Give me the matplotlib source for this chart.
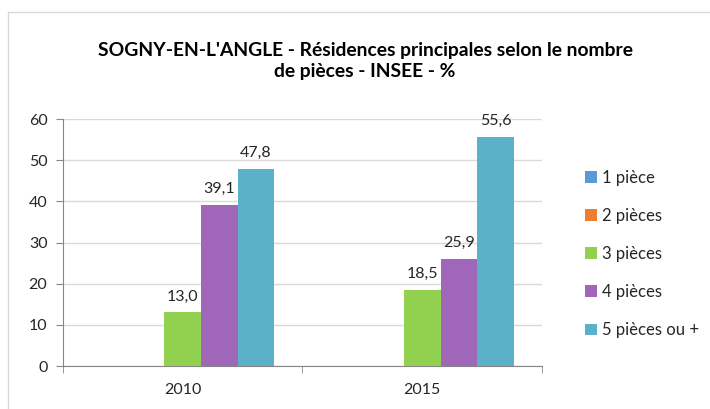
import matplotlib
matplotlib.use("Agg")
import matplotlib.pyplot as plt
import numpy as np
from matplotlib.patches import Patch, Rectangle

years = ["2010", "2015"]
series = ["1 pièce", "2 pièces", "3 pièces", "4 pièces", "5 pièces ou +"]
v_1p = [np.nan, np.nan]
v_2p = [np.nan, np.nan]
v_3p = [13.0, 18.5]
v_4p = [39.1, 25.9]
v_5p = [47.8, 55.6]
values = [v_1p, v_2p, v_3p, v_4p, v_5p]
colors = ["#5B9BD5", "#ED7D31", "#92D050", "#A066B9", "#5BB1C7"]
title = "SOGNY-EN-L'ANGLE - Résidences principales selon le nombre\nde pièces - INSEE - %"

plt.rcParams['font.family'] = ['Lato', 'DejaVu Sans']

fig = plt.figure(figsize=(7.10, 4.09), dpi=100)
W, H = 710, 409
ax = fig.add_axes([62.7 / W, 1 - 366 / H, (542 - 62.7) / W, (366 - 119) / H])

# chart border
fig.patches.append(Rectangle((8 / W, -0.1), 1.2, (1 - 12 / H) + 0.1, transform=fig.transFigure,
                             fill=False, edgecolor="#D9D9D9", linewidth=1.0))

x = np.arange(len(years))
bw = 0.153
for i, (s, vals, c) in enumerate(zip(series, values, colors)):
    pos = x + (i - 2) * bw
    ax.bar(pos, vals, width=bw, color=c, label=s, zorder=3)
    for p, v in zip(pos, vals):
        if not np.isnan(v):
            ax.text(p, v + 2.2, f"{v:.1f}".replace(".", ","), ha="center", va="bottom",
                    fontsize=11.5, color="#262626")

ax.set_xlim(-0.5, 1.5)
ax.set_ylim(0, 60)
ax.set_yticks(range(0, 61, 10))
ax.set_xticks(x)
ax.set_xticklabels(years)
ax.set_xticks([-0.5, 0.5, 1.5], minor=True)
ax.tick_params(axis="x", which="major", length=0, pad=12, labelsize=11.5, labelcolor="#262626")
ax.tick_params(axis="x", which="minor", length=5, color="#868686", direction="out")
ax.tick_params(axis="y", length=5, color="#868686", direction="out", pad=6, labelsize=11.5,
               labelcolor="#262626")
ax.yaxis.grid(True, color="#D9D9D9", linewidth=1, zorder=0)
ax.set_axisbelow(True)
for sp in ["top", "right"]:
    ax.spines[sp].set_visible(False)
for sp in ["left", "bottom"]:
    ax.spines[sp].set_color("#868686")

fig.text(365 / W, 1 - 61 / H, title, ha="center", va="center", fontsize=13.9,
         fontweight="bold", color="#000000", linespacing=1.3)

handles = [Patch(facecolor=c, edgecolor="none") for c in colors]
fig.legend(handles, series, loc="center left", bbox_to_anchor=(570 / W, 1 - 254 / H),
           frameon=False, fontsize=12, handlelength=0.7, handleheight=0.7,
           handletextpad=0.3, labelspacing=1.33, labelcolor="#262626")

fig.savefig("out.png", dpi=100)
